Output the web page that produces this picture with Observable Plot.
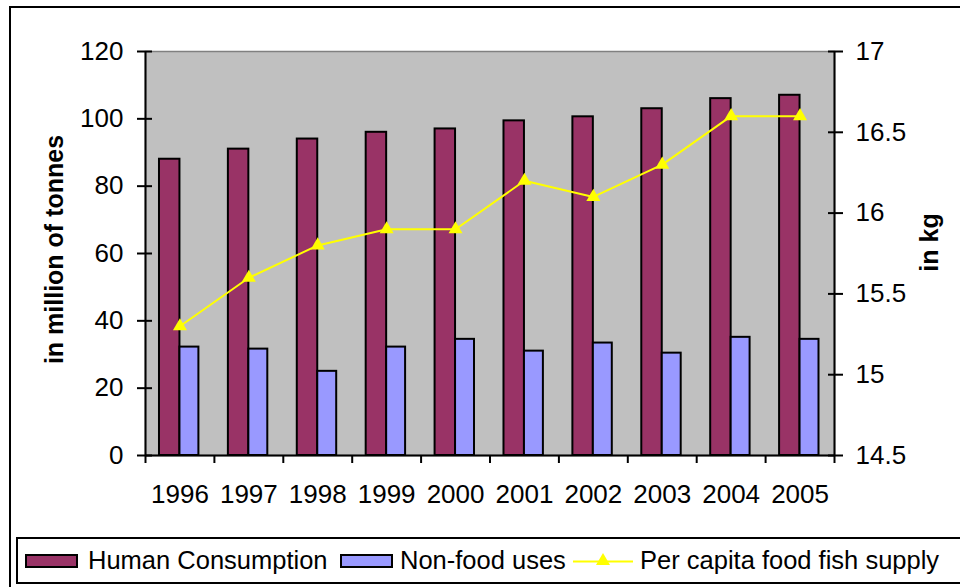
<!DOCTYPE html>
<html>
<head>
<meta charset="utf-8">
<script src="https://cdn.jsdelivr.net/npm/d3@7"></script>
<script src="https://cdn.jsdelivr.net/npm/@observablehq/plot@0.6"></script>
<style>
  html, body { margin: 0; padding: 0; width: 960px; height: 587px; overflow: hidden; background: #fff; }
  body { position: relative; font-family: Arial, "Liberation Sans", sans-serif; }
  #frame { position: absolute; left: 9px; top: 6px; width: 1000px; height: 700px; border: 2px solid #000; box-sizing: border-box; }
  #chart { position: absolute; left: 0; top: 0; }
  #legend { position: absolute; left: 16px; top: 537px; width: 1000px; height: 47px; border: 2px solid #000; box-sizing: border-box; background: #fff; }
  .sw { position: absolute; top: 15px; width: 53px; height: 14px; border: 2px solid #000; box-sizing: border-box; }
  .lt { position: absolute; top: 0; line-height: 43px; font-size: 25.5px; color: #000; white-space: nowrap; }
</style>
</head>
<body>
<div id="frame"></div>
<div id="chart"></div>
<div id="legend"></div>
<script>
// ---- data ----
const years = ["1996","1997","1998","1999","2000","2001","2002","2003","2004","2005"];
const humanConsumption = [88, 91, 94, 96, 97, 99.4, 100.6, 103, 106, 107];
const nonFoodUses = [32.2, 31.6, 25, 32.2, 34.5, 31, 33.4, 30.4, 35.1, 34.5];
const perCapita = [15.3, 15.6, 15.8, 15.9, 15.9, 16.2, 16.1, 16.3, 16.6, 16.6];
const leftTicks = [0, 20, 40, 60, 80, 100, 120];
const rightTicks = [14.5, 15, 15.5, 16, 16.5, 17];
const seriesNames = ["Human Consumption", "Non-food uses", "Per capita food fish supply"];
const colors = ["#993366", "#9999FF", "#FFFF00"];

const rows = years.map((y, i) => ({year: y, human: humanConsumption[i], nonfood: nonFoodUses[i], pc: perCapita[i]}));

// right axis (kg) mapped onto left scale
const rMin = 14.5, rMax = 17, lMax = 120;
const toLeft = v => (v - rMin) * lMax / (rMax - rMin);
const toRight = v => rMin + v * (rMax - rMin) / lMax;

const W = 960, H = 530, mL = 145, mR = 126, mT = 51, mB = 75;
const bw = (W - mL - mR) / years.length;
const font = 'Arial, "Liberation Sans", sans-serif';

const plot = Plot.plot({
  width: W, height: H,
  marginLeft: mL, marginRight: mR, marginTop: mT, marginBottom: mB,
  style: {fontFamily: font, fontSize: "26px", color: "#000", background: "transparent", overflow: "visible"},
  x: {type: "band", domain: years, padding: 0, round: false},
  y: {domain: [0, lMax]},
  marks: [
    Plot.frame({fill: "#C0C0C0", stroke: "#808080", strokeWidth: 1.5}),
    Plot.barY(rows, {x: "year", y: "human", fill: colors[0], stroke: "#000", strokeWidth: 2, insetLeft: bw * 0.203, insetRight: bw * 0.5}),
    Plot.barY(rows, {x: "year", y: "nonfood", fill: colors[1], stroke: "#000", strokeWidth: 2, insetLeft: bw * 0.5, insetRight: bw * 0.225}),
    Plot.line(rows, {x: "year", y: d => toLeft(d.pc), stroke: colors[2], strokeWidth: 2}),
    Plot.dot(rows, {x: "year", y: d => toLeft(d.pc), symbol: "triangle", r: 5.2, fill: colors[2], stroke: "none"}),
    // axis lines
    Plot.ruleX(years.slice(0, 1), {dx: -bw / 2, stroke: "#000", strokeWidth: 2}),
    Plot.ruleX(years.slice(-1), {dx: bw / 2, stroke: "#000", strokeWidth: 2}),
    Plot.ruleY([0], {stroke: "#000", strokeWidth: 2}),
    // left axis: crossing ticks + labels
    Plot.axisY({ticks: leftTicks, tickSize: 15, dx: 7, tickFormat: () => "", label: null, strokeWidth: 2}),
    Plot.axisY({ticks: leftTicks, tickSize: 0, tickPadding: 22, label: null}),
    // right axis (kg)
    Plot.axisY({anchor: "right", ticks: rightTicks.map(toLeft), tickSize: 15, dx: -7, tickFormat: () => "", label: null, strokeWidth: 2}),
    Plot.axisY({anchor: "right", ticks: rightTicks.map(toLeft), tickSize: 0, tickPadding: 21, tickFormat: d => String(+toRight(d).toFixed(1)), label: null}),
    // x axis: ticks between categories + labels
    Plot.axisX({ticks: years, tickSize: 8, dx: -bw / 2, tickFormat: () => "", label: null, strokeWidth: 2}),
    Plot.axisX({ticks: years.slice(-1), tickSize: 8, dx: bw / 2, tickFormat: () => "", label: null, strokeWidth: 2}),
    Plot.axisX({ticks: years, tickSize: 0, tickPadding: 29, label: null}),
    // axis titles
    Plot.text(["in million of tonnes"], {frameAnchor: "left", textAnchor: "middle", rotate: -90, dx: -91, dy: -4, fontWeight: "bold", fontSize: 25}),
    Plot.text(["in kg"], {frameAnchor: "right", textAnchor: "middle", rotate: -90, dx: 95, dy: -11, fontWeight: "bold", fontSize: 25})
  ]
});
document.getElementById("chart").appendChild(plot);

// ---- legend ----
const legend = document.getElementById("legend");
const lx = 16;
function add(html) { legend.insertAdjacentHTML("beforeend", html); }
add(`<div class="sw" style="left:${25 - lx - 2}px;background:${colors[0]}"></div>`);
add(`<div class="lt" style="left:${88 - lx - 2}px">${seriesNames[0]}</div>`);
add(`<div class="sw" style="left:${340 - lx - 2}px;background:${colors[1]}"></div>`);
add(`<div class="lt" style="left:${400 - lx - 2}px">${seriesNames[1]}</div>`);
add(`<svg style="position:absolute;left:${573 - lx - 2}px;top:10px" width="60" height="24"><line x1="0" x2="60" y1="12.5" y2="12.5" stroke="${colors[2]}" stroke-width="2"/><path transform="translate(30,12)" d="${d3.symbol(d3.symbolTriangle, 85)()}" fill="${colors[2]}"/></svg>`);
add(`<div class="lt" style="left:${640 - lx - 2}px">${seriesNames[2]}</div>`);
</script>
</body>
</html>
